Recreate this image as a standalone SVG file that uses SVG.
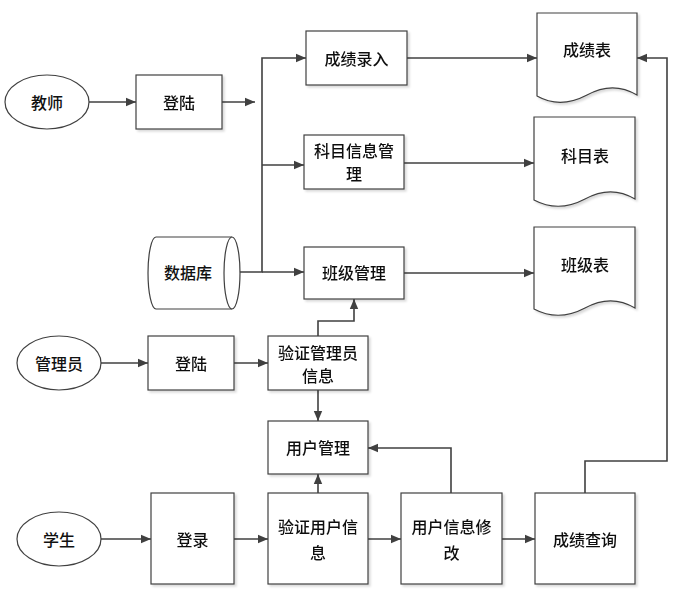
<svg xmlns="http://www.w3.org/2000/svg" width="689" height="606" viewBox="0 0 689 606">
<style>
.s{fill:#fff;stroke:#404040;stroke-width:1.2}
.t{font-family:"Noto Sans CJK SC","Noto Sans CJK JP",sans-serif;font-size:16px;font-weight:500;fill:#111;text-anchor:middle;dominant-baseline:central}
.c{fill:none;stroke:#404040;stroke-width:1.6}
</style>
<defs>
<marker id="a" viewBox="0 0 10 10" refX="10" refY="5" markerWidth="10" markerHeight="10" markerUnits="userSpaceOnUse" orient="auto">
<path d="M0,0.8 L10,5 L0,9.2 Z" fill="#404040"/>
</marker>
<filter id="sh" x="-10%" y="-10%" width="130%" height="130%">
<feDropShadow dx="2" dy="2" stdDeviation="1" flood-color="#000" flood-opacity="0.15"/>
</filter>
</defs>
<rect width="689" height="606" fill="#fff"/>

<g id="connectors">
<line class="c" x1="89" y1="102" x2="136" y2="102" marker-end="url(#a)"/>
<line class="c" x1="222" y1="102" x2="255" y2="102" marker-end="url(#a)"/>
<polyline class="c" points="231,272 262,272 262,58 306,58" marker-end="url(#a)"/>
<line class="c" x1="262" y1="165" x2="304" y2="165" marker-end="url(#a)"/>
<line class="c" x1="262" y1="272" x2="304" y2="272" marker-end="url(#a)"/>
<line class="c" x1="407" y1="58" x2="537" y2="58" marker-end="url(#a)"/>
<line class="c" x1="404" y1="163" x2="534" y2="163" marker-end="url(#a)"/>
<line class="c" x1="404" y1="273" x2="534" y2="273" marker-end="url(#a)"/>
<line class="c" x1="100" y1="363" x2="148" y2="363" marker-end="url(#a)"/>
<line class="c" x1="234" y1="363" x2="268" y2="363" marker-end="url(#a)"/>
<polyline class="c" points="318,336 318,321 354,321 354,299" marker-end="url(#a)"/>
<line class="c" x1="318" y1="390" x2="318" y2="421" marker-end="url(#a)"/>
<line class="c" x1="100" y1="539" x2="151" y2="539" marker-end="url(#a)"/>
<line class="c" x1="234" y1="539" x2="268" y2="539" marker-end="url(#a)"/>
<line class="c" x1="368" y1="539" x2="401" y2="539" marker-end="url(#a)"/>
<line class="c" x1="502" y1="539" x2="535" y2="539" marker-end="url(#a)"/>
<line class="c" x1="318" y1="493" x2="318" y2="474" marker-end="url(#a)"/>
<polyline class="c" points="451,493 451,448 368,448" marker-end="url(#a)"/>
<polyline class="c" points="585,493 585,461 667,461 667,58 637,58" marker-end="url(#a)"/>
</g>

<g id="teacher"><ellipse class="s" cx="47" cy="102" rx="42" ry="27"/><text class="t" x="47" y="102">教师</text></g>
<g id="login1" filter="url(#sh)"><rect class="s" x="136" y="75" width="86" height="54"/><text class="t" x="179" y="102">登陆</text></g>
<g id="score-input" filter="url(#sh)"><rect class="s" x="306" y="31" width="101" height="54"/><text class="t" x="356.5" y="58">成绩录入</text></g>
<g id="subject-mgmt" filter="url(#sh)"><rect class="s" x="304" y="135" width="100" height="54"/><text class="t" x="354" y="150">科目信息管</text><text class="t" x="354" y="173">理</text></g>
<g id="class-mgmt" filter="url(#sh)"><rect class="s" x="304" y="247" width="100" height="52"/><text class="t" x="354" y="272">班级管理</text></g>

<g id="score-table" filter="url(#sh)"><path class="s" d="M537,13 H637 V95 C622,86 605,85 587,95 C570,104 553,105 537,96 Z"/><text class="t" x="587" y="49">成绩表</text></g>
<g id="subject-table" filter="url(#sh)"><path class="s" d="M534,117 H635 V199 C620,190 603,189 585,199 C568,208 551,209 534,200 Z"/><text class="t" x="585" y="155">科目表</text></g>
<g id="class-table" filter="url(#sh)"><path class="s" d="M534,227 H635 V308 C620,299 603,298 585,308 C568,317 551,318 534,309 Z"/><text class="t" x="585" y="264">班级表</text></g>

<g id="database"><path class="s" d="M156,237 H232 A8,36 0 0 1 232,309 H156 A8,36 0 0 1 156,237 Z"/><path class="s" fill="none" d="M232,237 A8,36 0 0 0 232,309"/><text class="t" x="188" y="272">数据库</text></g>

<g id="admin"><ellipse class="s" cx="59" cy="363" rx="42" ry="27"/><text class="t" x="59" y="363">管理员</text></g>
<g id="login2" filter="url(#sh)"><rect class="s" x="148" y="336" width="86" height="54"/><text class="t" x="191" y="363">登陆</text></g>
<g id="verify-admin" filter="url(#sh)"><rect class="s" x="268" y="336" width="100" height="54"/><text class="t" x="318" y="352">验证管理员</text><text class="t" x="318" y="375">信息</text></g>
<g id="user-mgmt" filter="url(#sh)"><rect class="s" x="268" y="421" width="100" height="53"/><text class="t" x="318" y="447">用户管理</text></g>

<g id="student"><ellipse class="s" cx="59" cy="539" rx="42" ry="27"/><text class="t" x="59" y="539">学生</text></g>
<g id="login3" filter="url(#sh)"><rect class="s" x="151" y="493" width="83" height="91"/><text class="t" x="192.5" y="539">登录</text></g>
<g id="verify-user" filter="url(#sh)"><rect class="s" x="268" y="493" width="100" height="91"/><text class="t" x="318" y="526">验证用户信</text><text class="t" x="318" y="552">息</text></g>
<g id="user-edit" filter="url(#sh)"><rect class="s" x="401" y="493" width="101" height="91"/><text class="t" x="451.5" y="526">用户信息修</text><text class="t" x="451.5" y="552">改</text></g>
<g id="score-query" filter="url(#sh)"><rect class="s" x="535" y="493" width="100" height="91"/><text class="t" x="585" y="539">成绩查询</text></g>
</svg>
